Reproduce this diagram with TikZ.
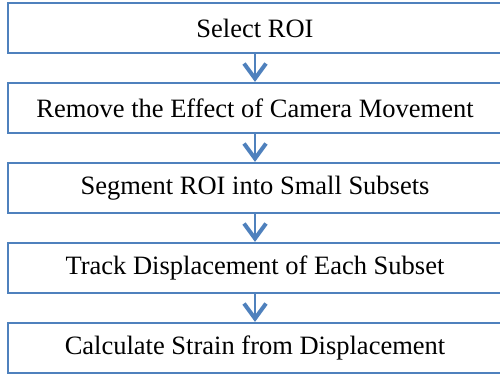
\documentclass[tikz,border=0pt]{standalone}
\usepackage{fontspec}
\setmainfont{Liberation Serif}
\usetikzlibrary{arrows.meta}
\definecolor{boxblue}{RGB}{79,129,189}
\begin{document}
\begin{tikzpicture}[x=1pt,y=-1pt,
  stepbox/.style={draw=boxblue, line width=2.2pt, fill=white, rectangle,
    minimum width=494pt, minimum height=50pt, inner sep=0pt,
    font=\fontsize{26.5}{30}\selectfont, text=black},
  flow/.style={draw=boxblue, line width=1.5pt,
    -{Straight Barb[length=15pt,width=22pt,line width=4pt]}}]
\useasboundingbox (0,0) rectangle (500,377);
\clip (0,0) rectangle (500,377);
\node[stepbox] (b1) at (255,28) {Select ROI};
\node[stepbox] (b2) at (255,108) {Remove the Effect of Camera Movement};
\node[stepbox] (b3) at (255,188) {Segment ROI into Small Subsets};
\node[stepbox] (b4) at (255,268) {Track Displacement of Each Subset};
\node[stepbox] (b5) at (255,348) {Calculate Strain from Displacement};
\draw[flow] (b1.south) -- (b2.north);
\draw[flow] (b2.south) -- (b3.north);
\draw[flow] (b3.south) -- (b4.north);
\draw[flow] (b4.south) -- (b5.north);
\end{tikzpicture}
\end{document}
